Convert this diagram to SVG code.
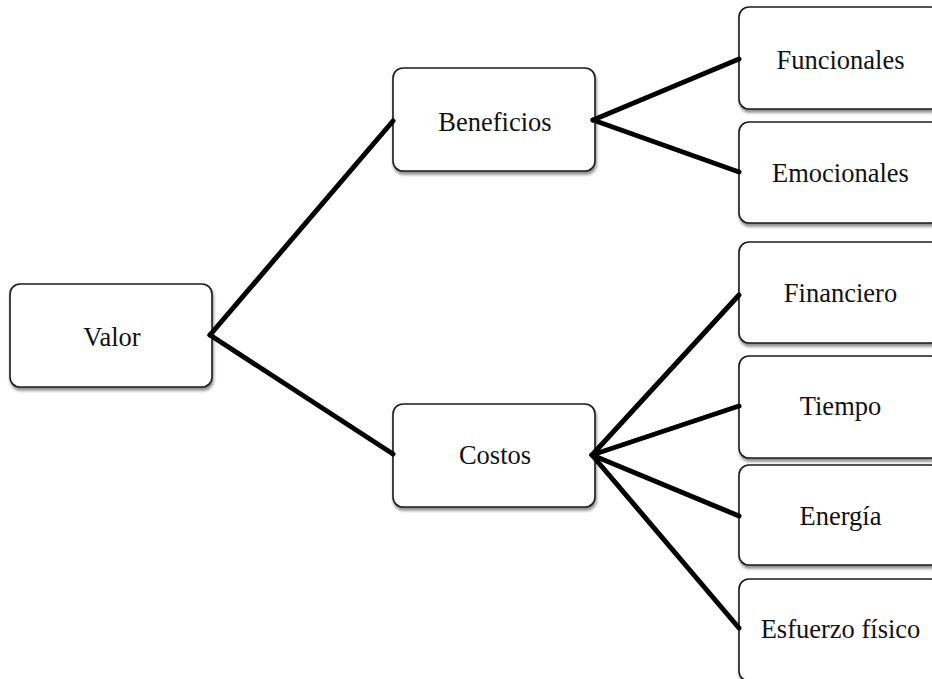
<svg xmlns="http://www.w3.org/2000/svg" width="932" height="679" viewBox="0 0 932 679">
<defs>
<filter id="sh" x="-10%" y="-10%" width="125%" height="130%">
<feGaussianBlur in="SourceAlpha" stdDeviation="1.6"/>
<feOffset dx="1" dy="2.5" result="b"/>
<feComponentTransfer><feFuncA type="linear" slope="0.45"/></feComponentTransfer>
<feMerge><feMergeNode/><feMergeNode in="SourceGraphic"/></feMerge>
</filter>
</defs>
<style>
.box{fill:#fff;stroke:#1a1a1a;stroke-width:1.6;filter:url(#sh)}
.lbl{font-family:"Liberation Serif","DejaVu Serif",serif;font-size:26.5px;fill:#111;text-anchor:middle}
.edge{stroke:#000;stroke-width:5;stroke-linecap:round;fill:none}
</style>
<rect width="932" height="679" fill="#fff"/>
<g id="nodes">
<g id="valor"><rect class="box" x="10" y="284" width="202" height="103" rx="10"/><text class="lbl" x="112" y="346">Valor</text></g>
<g id="beneficios"><rect class="box" x="393" y="68" width="202" height="103" rx="10"/><text class="lbl" x="495" y="131">Beneficios</text></g>
<g id="costos"><rect class="box" x="393" y="404" width="202" height="103" rx="10"/><text class="lbl" x="495" y="464">Costos</text></g>
<g id="funcionales"><rect class="box" x="739" y="7" width="202" height="102" rx="10"/><text class="lbl" x="840.5" y="69">Funcionales</text></g>
<g id="emocionales"><rect class="box" x="739" y="122" width="202" height="101" rx="10"/><text class="lbl" x="840.5" y="182">Emocionales</text></g>
<g id="financiero"><rect class="box" x="739" y="242" width="202" height="101" rx="10"/><text class="lbl" x="840.5" y="302">Financiero</text></g>
<g id="tiempo"><rect class="box" x="739" y="356" width="202" height="102" rx="10"/><text class="lbl" x="840.5" y="415">Tiempo</text></g>
<g id="energia"><rect class="box" x="739" y="465" width="202" height="100" rx="10"/><text class="lbl" x="840.5" y="525">Energía</text></g>
<g id="esfuerzo"><rect class="box" x="739" y="579" width="202" height="102" rx="10"/><text class="lbl" x="840.5" y="638">Esfuerzo físico</text></g>
</g>
<g id="connectors">
<line class="edge" x1="210" y1="335" x2="393" y2="121"/>
<line class="edge" x1="210" y1="335" x2="393" y2="454"/>
<line class="edge" x1="593" y1="120" x2="739" y2="59"/>
<line class="edge" x1="593" y1="120" x2="739" y2="172"/>
<line class="edge" x1="592" y1="455" x2="739" y2="295"/>
<line class="edge" x1="592" y1="455" x2="739" y2="406"/>
<line class="edge" x1="592" y1="455" x2="739" y2="516"/>
<line class="edge" x1="592" y1="455" x2="739" y2="628"/>
</g>
</svg>
